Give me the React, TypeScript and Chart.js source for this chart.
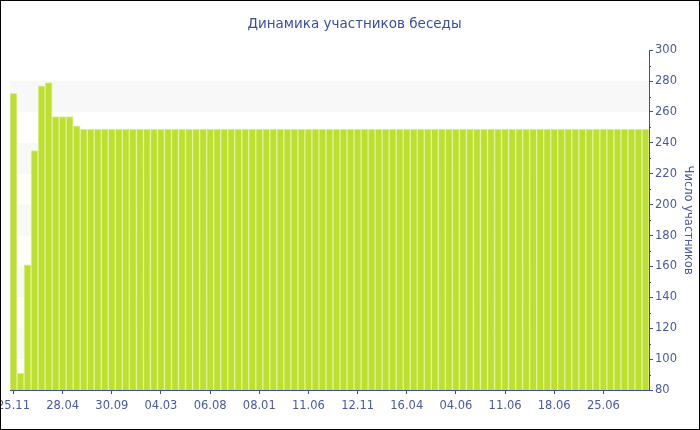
import React, { useEffect, useRef } from "react";
import { Chart, registerables } from "chart.js";

Chart.register(...registerables);

const chartTitle = "Динамика участников беседы";
const axisTitle = "Число участников";

const tickLabels = [
  "25.11", "28.04", "30.09", "04.03", "06.08", "08.01", "11.06",
  "12.11", "16.04", "04.06", "11.06", "18.06", "25.06",
];

const participants = [
  272, 91, 161, 235, 277, 279, 257, 257, 257, 251,
  249, 249, 249, 249, 249, 249, 249, 249, 249, 249,
  249, 249, 249, 249, 249, 249, 249, 249, 249, 249,
  249, 249, 249, 249, 249, 249, 249, 249, 249, 249,
  249, 249, 249, 249, 249, 249, 249, 249, 249, 249,
  249, 249, 249, 249, 249, 249, 249, 249, 249, 249,
  249, 249, 249, 249, 249, 249, 249, 249, 249, 249,
  249, 249, 249, 249, 249, 249, 249, 249, 249, 249,
  249, 249, 249, 249, 249, 249, 249, 249, 249, 249,
  249,
];

const labelEvery = 7;
const bandStarts = [100, 140, 180, 220, 260];
const bandSize = 20;
const yMin = 80;
const yMax = 300;
const yStep = 20;
const minorStep = 10;

const AXIS = "#3b4f9b";
const TEXT = "#4a5aa0";
const FONT = "DejaVu Sans";

const categories = participants.map((_, i) =>
  i % labelEvery === 0 ? tickLabels[i / labelEvery] ?? "" : ""
);

const bandsPlugin = {
  id: "bands",
  beforeDatasetsDraw(chart: any) {
    const { ctx, chartArea } = chart;
    const y = chart.scales.y;
    ctx.save();
    ctx.fillStyle = "#f8f8f8";
    for (const b of bandStarts) {
      const top = y.getPixelForValue(b + bandSize);
      const bot = y.getPixelForValue(b);
      ctx.fillRect(chartArea.left, top, chartArea.right - chartArea.left, bot - top);
    }
    ctx.restore();
  },
};

const minorTicksPlugin = {
  id: "minorTicks",
  afterDraw(chart: any) {
    const { ctx } = chart;
    const y = chart.scales.y;
    ctx.save();
    ctx.strokeStyle = AXIS;
    ctx.lineWidth = 1;
    for (let v = yMin + minorStep; v < yMax; v += yStep) {
      const py = Math.round(y.getPixelForValue(v)) + 0.5;
      ctx.beginPath();
      ctx.moveTo(y.left, py);
      ctx.lineTo(y.left + 2, py);
      ctx.stroke();
    }
    ctx.restore();
  },
};

export default function App() {
  const ref = useRef<HTMLCanvasElement | null>(null);

  useEffect(() => {
    document.body.style.margin = "0";
    if (!ref.current) return;
    const chart = new Chart(ref.current, {
      type: "bar",
      data: {
        labels: categories,
        datasets: [
          {
            data: participants,
            backgroundColor: "#bde030",
            borderColor: "#e0f1a0",
            borderWidth: 1,
            barPercentage: 1,
            categoryPercentage: 1,
          },
        ],
      },
      options: {
        responsive: false,
        animation: false,
        devicePixelRatio: 1,
        layout: { padding: { left: 9, right: 0, top: 0, bottom: 0 } },
        plugins: {
          legend: { display: false },
          tooltip: { enabled: false },
          title: {
            display: true,
            text: chartTitle,
            color: "#3a4f9e",
            font: { family: FONT, size: 13.5, weight: "normal" },
            padding: { top: 15, bottom: 18 },
          },
        },
        scales: {
          x: {
            type: "category",
            offset: true,
            grid: {
              display: true,
              drawOnChartArea: false,
              offset: false,
              tickLength: 4,
              color: (c: any) => (c.index % labelEvery === 0 ? AXIS : "rgba(0,0,0,0)"),
            },
            border: { display: true, color: AXIS },
            ticks: {
              autoSkip: false,
              maxRotation: 0,
              minRotation: 0,
              padding: 5,
              color: TEXT,
              font: { family: FONT, size: 11.5 },
            },
            afterFit: (s: any) => {
              s.height = 39;
              s.paddingLeft = 0;
              s.paddingRight = 0;
            },
          },
          y: {
            position: "right",
            min: yMin,
            max: yMax,
            grid: {
              display: true,
              drawOnChartArea: false,
              tickLength: 4,
              color: AXIS,
            },
            border: { display: true, color: AXIS },
            ticks: {
              stepSize: yStep,
              padding: 2,
              color: TEXT,
              font: { family: FONT, size: 11.5 },
            },
            title: {
              display: true,
              text: axisTitle,
              color: TEXT,
              font: { family: FONT, size: 11.5 },
              padding: { top: 4, bottom: 0 },
            },
            afterFit: (s: any) => {
              s.width = 50;
            },
          },
        },
      },
      plugins: [bandsPlugin, minorTicksPlugin],
    });
    return () => chart.destroy();
  }, []);

  return (
    <div
      style={{
        width: 700,
        height: 430,
        border: "1px solid #000",
        boxSizing: "border-box",
        background: "#fff",
      }}
    >
      <canvas ref={ref} width={698} height={428} style={{ display: "block" }} />
    </div>
  );
}
